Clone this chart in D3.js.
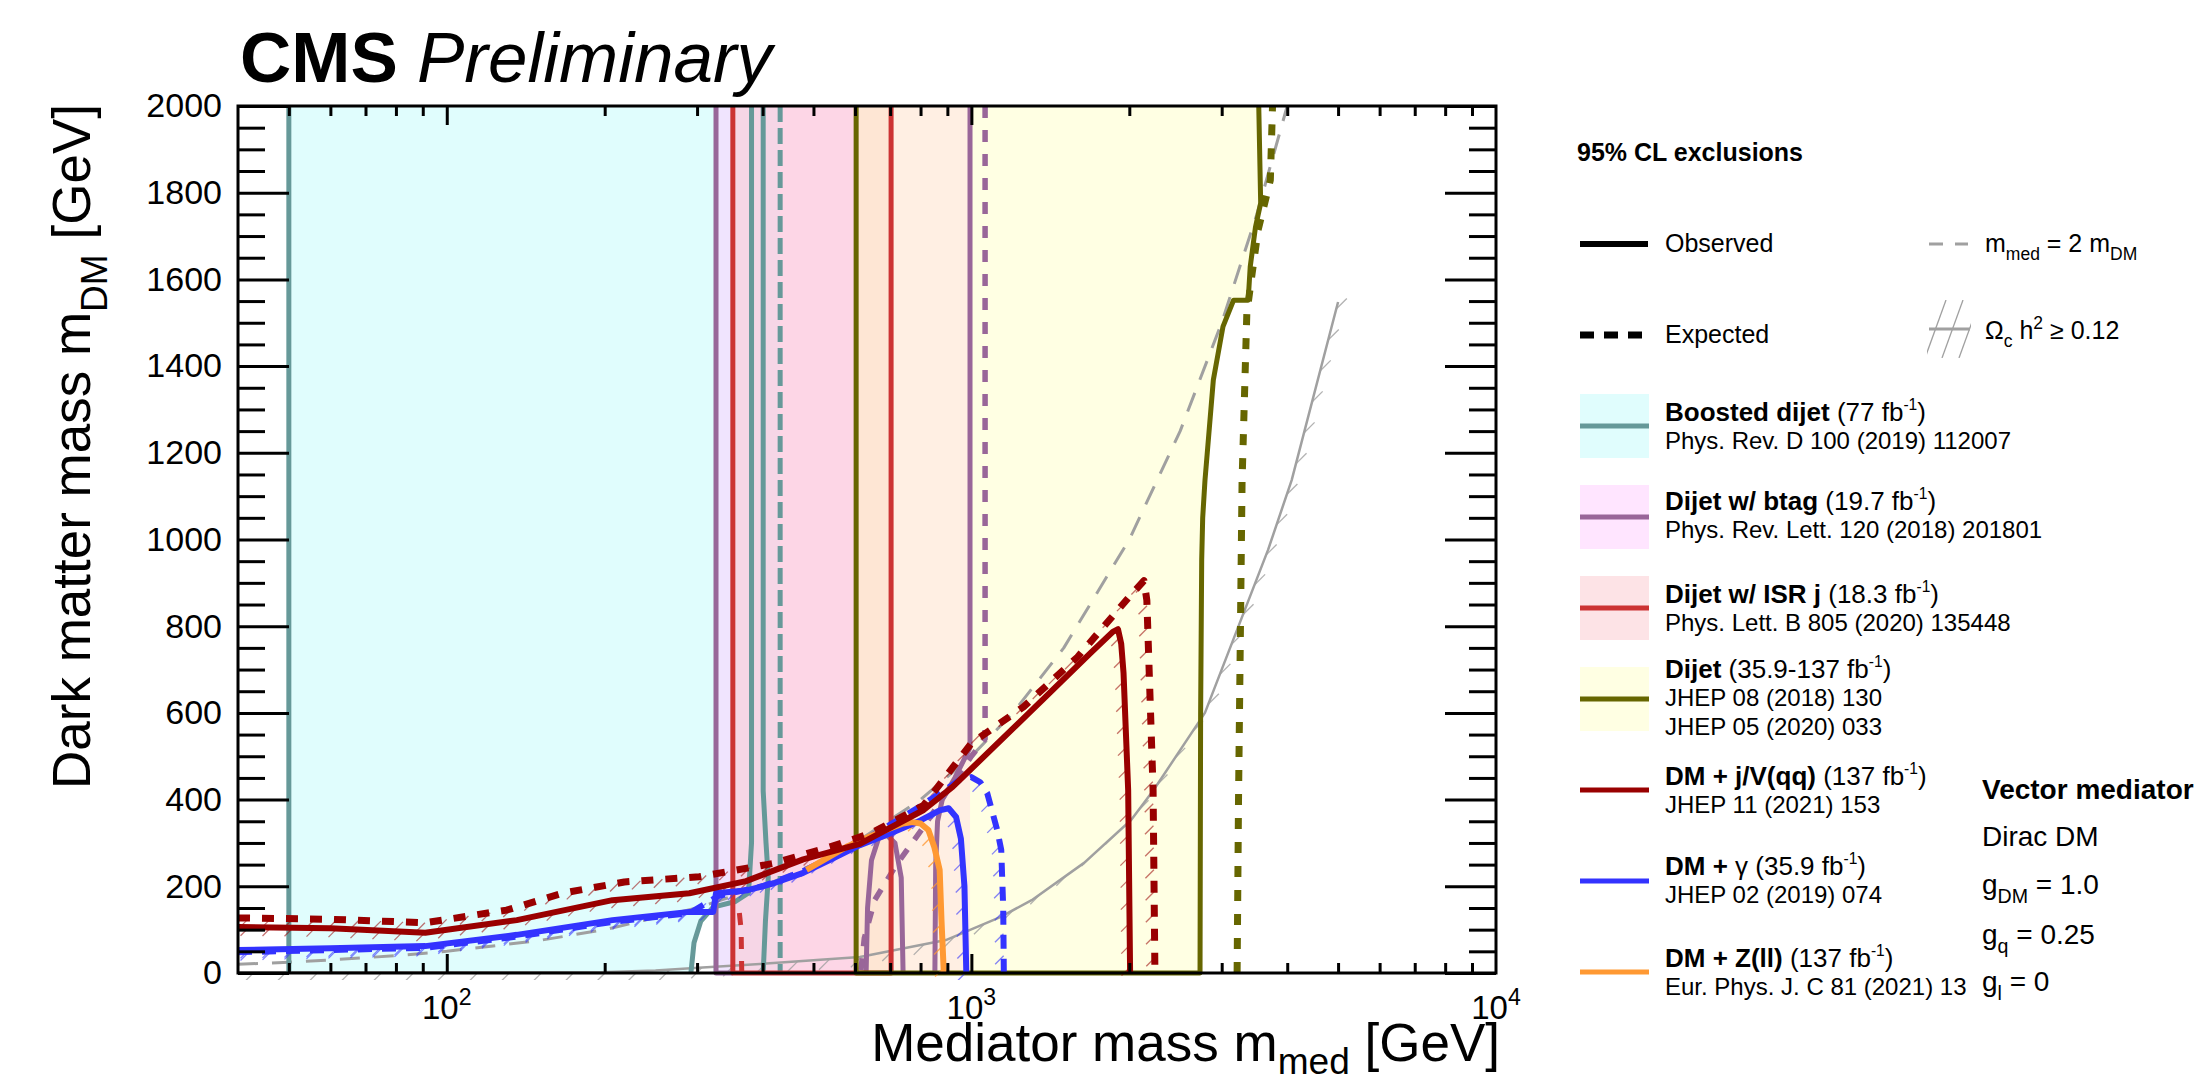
<!DOCTYPE html>
<html lang="en">
<head>
<meta charset="UTF-8">
<title>DM summary - vector mediator</title>
<script src="https://d3js.org/d3.v7.min.js"></script>
<style>
  body { margin: 0; background: #fff; }
  svg { font-family: "Liberation Sans", Arial, Helvetica, sans-serif; }
</style>
</head>
<body>
<script>
// ---------- chart values (GeV: [m_med, m_DM]) ----------
var xMajorTicks = [100, 1000];
var xMinorTicks = [50, 60, 70, 80, 90, 200, 300, 400, 500, 600, 700, 800, 900,
                   2000, 3000, 4000, 5000, 6000, 7000, 8000, 9000];
var xTickLabels = [["10", "2", 100], ["10", "3", 1000], ["10", "4", 10000]];
var yTicks = [0, 200, 400, 600, 800, 1000, 1200, 1400, 1600, 1800, 2000];

// filled exclusion regions
var boostedFill = [[50,0],[50,2000],[432,2000],[432,0],[322,0],[322,150],[305,120],[295,60],[292,0]];
var btagFill = [[326,0],[326,2000],[994,2000],[994,0]];
var isrFill = [[351,0],[351,2000],[703,2000],[703,0]];
var dijetFill = [[603,0],[603,2000],[3530,2000],[3560,1776],[3480,1721],[3400,1629],[3370,1552],
                 [3160,1552],[3017,1491],[2892,1368],[2788,1137],[2760,1050],[2748,953],[2735,600],[2728,0]];

// contour lines
var boostedObs = [
  [[50,0],[50,2000]],
  [[292,0],[296,70],[305,120],[322,152],[355,165],[376,185],[381,300],[381,2000]],
  [[401,2000],[401,420],[406,300],[410,220],[405,120],[401,0]]
];
var boostedExp = [[[432,2000],[432,0]]];
var btagObs = [
  [[351,0],[326,0],[326,2000]],
  [[994,2000],[994,520],[930,450],[880,400],[862,350],[855,250],[852,0]],
  [[630,0],[634,150],[645,260],[665,310],[690,318],[715,300],[735,220],[741,0]]
];
var btagExp = [[[1062,2000],[1062,540],[1000,500],[900,420],[811,337],[720,250],[654,168],[625,80],[615,0]]];
var isrObs = [[[351,2000],[351,0],[703,0],[703,2000]]];
var isrExp = [[[365,0],[364,100],[360,155]]];
var dijetObs = [[[603,2000],[603,0],[2728,0],[2735,600],[2748,953],[2760,1050],[2788,1137],[2892,1368],
                 [3017,1491],[3160,1552],[3370,1552],[3400,1629],[3480,1721],[3560,1776],[3530,2000]]];
var dijetExp = [[[3210,0],[3230,400],[3281,1137],[3350,1522],[3430,1615],[3520,1714],[3714,1829],[3750,2000]]];

var jvObs = [[40,106],[60,103],[91,93],[136,122],[207,168],[290,184],[372,212],[478,262],[613,298],
             [811,376],[922,430],[1145,540],[1388,638],[1690,739],[1860,787],[1903,793],[1930,760],
             [1950,692],[1990,422],[2007,0]];
var jvExp = [[40,127],[60,124],[91,116],[130,145],[166,184],[218,210],[303,222],[420,253],[538,291],
             [643,322],[811,387],[1000,530],[1257,614],[1594,729],[2000,868],[2133,905],[2160,860],
             [2220,422],[2238,0]];
var gammaObs = [[40,53],[60,57],[91,62],[136,88],[207,122],[290,141],[322,141],[326,184],[375,191],
                [420,207],[478,231],[538,261],[613,295],[700,322],[800,352],[870,375],[905,380],
                [935,360],[955,310],[970,200],[978,0]];
var gammaExp = [[40,48],[60,53],[91,58],[136,84],[207,118],[290,138],[330,178],[400,200],[478,235],
                [613,300],[800,385],[950,445],[1000,452],[1040,440],[1072,415],[1120,330],[1140,284],
                [1150,150],[1153,0]];
var zllObs = [[485,238],[578,291],[660,322],[741,345],[771,348],[800,345],[828,330],[850,290],
              [870,238],[877,122],[885,14],[886,0]];

var diagLine = [[40,20],[50,25],[60,30],[80,40],[100,50],[150,75],[200,100],[300,150],[400,200],
                [500,250],[600,300],[800,400],[1000,500],[1200,600],[1500,750],[2000,1000],
                [2500,1250],[3000,1500],[3500,1750],[4000,2000]];
var relic = [[40,1.5],[150,1.5],[196,2],[250,6],[302,12],[420,23],[613,37],[894,76],[1135,129],
             [1303,168],[1640,254],[2016,353],[2225,422],[2787,600],[3677,976],[4079,1137],[5000,1548]];

// legend
var legendNames = ["Boosted dijet", "Dijet w/ btag", "Dijet w/ ISR j", "Dijet", "DM + j/V(qq)", "DM + ", "DM + Z(ll)"];
var legendLumi = ["77", "19.7", "18.3", "35.9-137", "137", "35.9", "137"];
var legendRefs = [["Phys. Rev. D 100 (2019) 112007"], ["Phys. Rev. Lett. 120 (2018) 201801"],
                  ["Phys. Lett. B 805 (2020) 135448"], ["JHEP 08 (2018) 130", "JHEP 05 (2020) 033"],
                  ["JHEP 11 (2021) 153"], ["JHEP 02 (2019) 074"], ["Eur. Phys. J. C 81 (2021) 13"]];

// ---------- colours ----------
var cTeal = "#669999", cPurple = "#996699", cIsr = "#cc3333", cOlive = "#666600",
    cJv = "#990000", cBlue = "#3333ff", cOrange = "#ff9933", cGrey = "#a0a0a0";
var fCyan = "rgba(0,240,240,0.12)", fLav = "rgba(255,203,255,0.5)",
    fPink = "rgba(251,200,205,0.5)", fYellow = "rgba(255,255,185,0.4)";

// ---------- setup ----------
var svg = d3.select("body").append("svg").attr("width", 2203).attr("height", 1082);
var x = d3.scaleLog().domain([40, 10000]).range([238, 1496]);
var y = d3.scaleLinear().domain([0, 2000]).range([973, 106]);
var line = d3.line().x(function(d) { return x(d[0]); }).y(function(d) { return y(d[1]); });

svg.append("clipPath").attr("id", "plotclip").append("rect")
    .attr("x", 238).attr("y", 104).attr("width", 1258).attr("height", 876);
svg.append("clipPath").attr("id", "fillclip").append("rect")
    .attr("x", 238).attr("y", 106).attr("width", 1258).attr("height", 867);

var fills = svg.append("g").attr("clip-path", "url(#fillclip)");
var plot = svg.append("g").attr("clip-path", "url(#plotclip)");

function fillArea(pts, col) {
    fills.append("path").attr("d", line(pts) + "Z").attr("fill", col).attr("stroke", "none");
}
fillArea(boostedFill, fCyan);
fillArea(btagFill, fLav);
fillArea(isrFill, fPink);
fillArea(dijetFill, fYellow);

function drawLines(sets, col, w, dash) {
    sets.forEach(function(pts) {
        var p = plot.append("path").attr("d", line(pts)).attr("fill", "none")
            .attr("stroke", col).attr("stroke-width", w).attr("stroke-linejoin", "round");
        if (dash) p.attr("stroke-dasharray", dash);
    });
}

// hatches on the excluded side (right-hand side of the travel direction)
function hatch(pts, col, len, gap, op) {
    var p = pts.map(function(d) { return [x(d[0]), y(d[1])]; });
    var carry = gap / 2;
    var g = plot.append("g").attr("stroke", col).attr("stroke-width", 1.3).attr("opacity", op);
    for (var i = 0; i < p.length - 1; i++) {
        var x0 = p[i][0], y0 = p[i][1], x1 = p[i + 1][0], y1 = p[i + 1][1];
        var L = Math.hypot(x1 - x0, y1 - y0);
        if (L === 0) continue;
        var tx = (x1 - x0) / L, ty = (y1 - y0) / L;
        var nx = -ty, ny = tx;
        var dx = Math.SQRT1_2, dy = -Math.SQRT1_2;
        if (dx * nx + dy * ny < 0) { dx = -dx; dy = -dy; }
        var s = carry;
        while (s < L) {
            var px = x0 + tx * s, py = y0 + ty * s;
            g.append("line").attr("x1", px).attr("y1", py)
                .attr("x2", px + dx * len).attr("y2", py + dy * len);
            s += gap;
        }
        carry = s - L;
    }
}

// relic density and m_med = 2 m_DM
hatch(relic, cGrey, 15, 32, 0.8);
drawLines([relic], cGrey, 2.5);
drawLines([diagLine], cGrey, 3, "20,14");

// dijet-type contours
drawLines(boostedObs, cTeal, 5);
drawLines(boostedExp, cTeal, 5, "16,6");
drawLines(btagObs, cPurple, 5);
drawLines(btagExp, cPurple, 5.5, "12,12");
drawLines(isrObs, cIsr, 5);
drawLines(isrExp, cIsr, 5, "12,12");
drawLines(dijetObs, cOlive, 5);
drawLines(dijetExp, cOlive, 7, "11,13");

// DM + X contours
hatch(gammaObs, cBlue, 12, 22, 0.6);
hatch(gammaExp, cBlue, 12, 22, 0.6);
hatch(zllObs, cOrange, 12, 22, 0.8);
hatch(jvObs, cJv, 12, 22, 0.55);
hatch(jvExp, cJv, 12, 22, 0.55);
drawLines([gammaObs], cBlue, 6);
drawLines([gammaExp], cBlue, 6, "14,10");
drawLines([zllObs], cOrange, 6);
drawLines([jvObs], cJv, 6);
drawLines([jvExp], cJv, 7, "12,12");

// ---------- axes ----------
function tickAxis(axisFn, scale, vals, size, tr) {
    var g = svg.append("g").attr("transform", tr)
        .call(axisFn(scale).tickValues(vals).tickSize(size).tickFormat(""));
    g.select(".domain").remove();
    g.selectAll("line").attr("stroke", "#000").attr("stroke-width", 3);
    return g;
}
var yMinor = d3.range(0, 2001, 50).filter(function(v) { return yTicks.indexOf(v) < 0; });
tickAxis(d3.axisBottom, x, xMinorTicks, -10, "translate(0,973)");
tickAxis(d3.axisBottom, x, xMajorTicks, -19, "translate(0,973)");
tickAxis(d3.axisTop, x, xMinorTicks, -10, "translate(0,106)");
tickAxis(d3.axisTop, x, xMajorTicks, -19, "translate(0,106)");
tickAxis(d3.axisLeft, y, yMinor, -27, "translate(238,0)");
tickAxis(d3.axisRight, y, yMinor, -27, "translate(1496,0)");
tickAxis(d3.axisRight, y, yTicks, -51, "translate(1496,0)");

var yAx = svg.append("g").attr("transform", "translate(238,0)")
    .call(d3.axisLeft(y).tickValues(yTicks).tickSize(-51).tickPadding(16).tickFormat(d3.format("d")));
yAx.select(".domain").remove();
yAx.selectAll("line").attr("stroke", "#000").attr("stroke-width", 3);
yAx.selectAll("text").attr("font-size", 34).attr("font-family", "Liberation Sans, Arial, sans-serif").attr("fill", "#000");

svg.append("rect").attr("x", 238).attr("y", 106).attr("width", 1258).attr("height", 867)
    .attr("fill", "none").attr("stroke", "#000").attr("stroke-width", 3);

// rich text helper: parts {t, b, i, sup, sub}
function rich(sel, x0, y0, fs, parts, anchor) {
    var t = sel.append("text").attr("x", x0).attr("y", y0).attr("font-size", fs).attr("fill", "#000");
    if (anchor) t.attr("text-anchor", anchor);
    var shift = 0;
    parts.forEach(function(p) {
        var target = p.sup ? -fs * 0.42 : (p.sub ? fs * (p.drop || 0.32) : 0);
        var ts = t.append("tspan").text(p.t).attr("dy", target - shift);
        shift = target;
        if (p.sup || p.sub) ts.attr("font-size", fs * (p.small || 0.7));
        if (p.b) ts.attr("font-weight", "bold");
        if (p.i) ts.attr("font-style", "italic");
    });
    return t;
}

xTickLabels.forEach(function(l) {
    rich(svg, x(l[2]), 1019, 33, [{t: l[0]}, {t: l[1], sup: true}], "middle");
});

// axis titles
rich(svg, 1500, 1061, 53, [{t: "Mediator mass m"}, {t: "med", sub: true, drop: 0.24}, {t: " [GeV]"}], "end");
rich(svg.append("g").attr("transform", "translate(90,104) rotate(-90)"), 0, 0, 53,
     [{t: "Dark matter mass m"}, {t: "DM", sub: true}, {t: " [GeV]"}], "end");

// CMS label
svg.append("text").attr("x", 240).attr("y", 82).attr("font-size", 71).attr("font-weight", "bold").text("CMS");
svg.append("text").attr("x", 417).attr("y", 82).attr("font-size", 71).attr("font-style", "italic").text("Preliminary");

// ---------- legend ----------
var leg = svg.append("g");
rich(leg, 1577, 161, 25, [{t: "95% CL exclusions", b: true}]);

leg.append("line").attr("x1", 1580).attr("x2", 1648).attr("y1", 244).attr("y2", 244)
    .attr("stroke", "#000").attr("stroke-width", 6);
rich(leg, 1665, 252, 25, [{t: "Observed"}]);
leg.append("line").attr("x1", 1580).attr("x2", 1648).attr("y1", 335).attr("y2", 335)
    .attr("stroke", "#000").attr("stroke-width", 7).attr("stroke-dasharray", "14,10");
rich(leg, 1665, 343, 25, [{t: "Expected"}]);

leg.append("line").attr("x1", 1929).attr("x2", 1968).attr("y1", 244).attr("y2", 244)
    .attr("stroke", cGrey).attr("stroke-width", 3).attr("stroke-dasharray", "14,12");
rich(leg, 1985, 252, 25, [{t: "m"}, {t: "med", sub: true}, {t: " = 2 m"}, {t: "DM", sub: true}]);

leg.append("clipPath").attr("id", "relicleg").append("rect")
    .attr("x", 1927).attr("y", 300).attr("width", 44).attr("height", 58);
var rg = leg.append("g").attr("clip-path", "url(#relicleg)");
[0, 17, 34].forEach(function(o) {
    rg.append("line").attr("x1", 1925 + o).attr("y1", 358).attr("x2", 1946 + o).attr("y2", 300)
        .attr("stroke", cGrey).attr("stroke-width", 1.3);
});
leg.append("line").attr("x1", 1929).attr("x2", 1970).attr("y1", 329).attr("y2", 329)
    .attr("stroke", cGrey).attr("stroke-width", 3);
rich(leg, 1985, 339, 25, [{t: "\u03a9"}, {t: "c", sub: true}, {t: " h"}, {t: "2", sup: true}, {t: " \u2265 0.12"}]);

var legColors = [cTeal, cPurple, cIsr, cOlive, cJv, cBlue, cOrange];
var legFills = [fCyan, fLav, fPink, fYellow, null, null, null];
var legY = [426, 517, 608, 699, 790, 881, 972];
var legTitleY = [421, 510, 603, 678, 785, 875, 967];
legendNames.forEach(function(name, i) {
    if (legFills[i]) {
        leg.append("rect").attr("x", 1580).attr("y", legY[i] - 32).attr("width", 69).attr("height", 64)
            .attr("fill", legFills[i]);
    }
    leg.append("line").attr("x1", 1580).attr("x2", 1649).attr("y1", legY[i]).attr("y2", legY[i])
        .attr("stroke", legColors[i]).attr("stroke-width", 5);
    var parts = [{t: name, b: true}];
    if (i === 5) parts.push({t: "\u03b3"});
    parts.push({t: " (" + legendLumi[i] + " fb"}, {t: "-1", sup: true, small: 0.6}, {t: ")"});
    rich(leg, 1665, legTitleY[i], 26, parts);
    legendRefs[i].forEach(function(r, j) {
        rich(leg, 1665, legTitleY[i] + 28 + 29 * j, 24, [{t: r}]);
    });
});

// model info
rich(leg, 1982, 799, 28, [{t: "Vector mediator", b: true}]);
rich(leg, 1982, 846, 28, [{t: "Dirac DM"}]);
rich(leg, 1982, 894, 28, [{t: "g"}, {t: "DM", sub: true}, {t: " = 1.0"}]);
rich(leg, 1982, 944, 28, [{t: "g"}, {t: "q", sub: true}, {t: "  = 0.25"}]);
rich(leg, 1982, 991, 28, [{t: "g"}, {t: "l", sub: true}, {t: " = 0"}]);
</script>
</body>
</html>
